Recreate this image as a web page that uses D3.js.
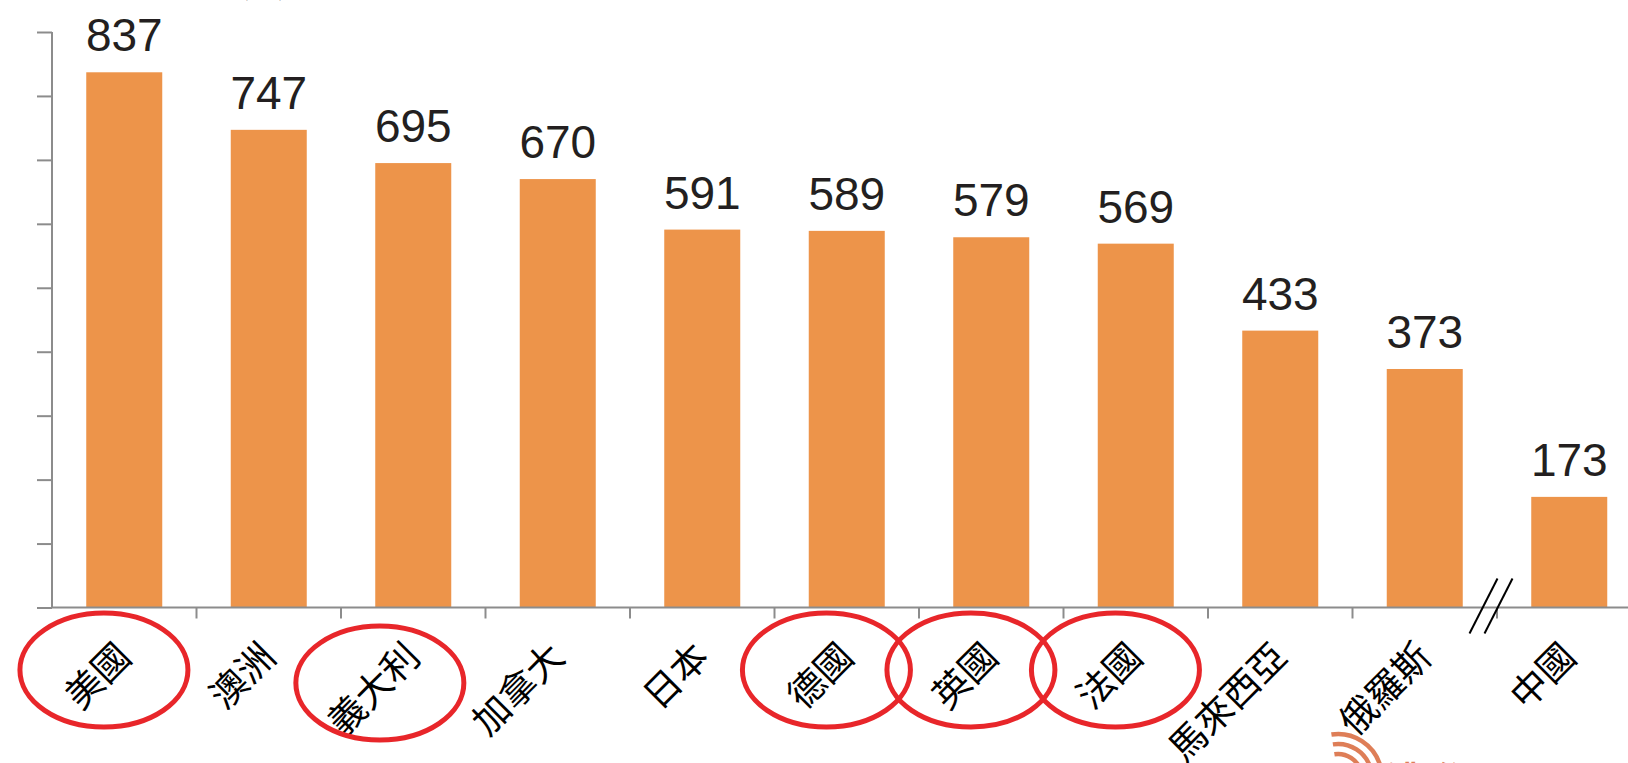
<!DOCTYPE html>
<html lang="zh-Hant">
<head>
<meta charset="utf-8">
<title>Bar chart</title>
<script src="https://d3js.org/d3.v7.min.js"></script>
<style>
  html, body { margin: 0; padding: 0; background: #fff; overflow: hidden; }
  svg { display: block; }
</style>
</head>
<body>
<div id="chart"></div>
<script>
// data
const countries = ["美國", "澳洲", "義大利", "加拿大", "日本", "德國", "英國", "法國", "馬來西亞", "俄羅斯", "中國"];
const values = [837, 747, 695, 670, 591, 589, 579, 569, 433, 373, 173];
const circled = ["美國", "義大利", "德國", "英國", "法國"];
const breakBefore = "中國";
const yTicks = [0, 100, 200, 300, 400, 500, 600, 700, 800, 900];

const width = 1628, height = 763;
const margin = {top: 32, left: 52, baseline: 607.5};

const svg = d3.select("#chart").append("svg")
    .attr("width", width)
    .attr("height", height);

const x = d3.scaleBand()
    .domain(countries)
    .range([margin.left, 1641.5])
    .paddingInner(0.474)
    .paddingOuter(0.237);

const y = d3.scaleLinear()
    .domain([0, 900])
    .range([margin.baseline, margin.top]);

// unit label, cut off by the top edge as in the source
svg.append("text")
    .attr("x", 240)
    .attr("y", -5)
    .attr("font-family", "'Noto Sans CJK TC', sans-serif")
    .attr("font-size", 28)
    .attr("fill", "#231f20")
    .text("(分)");

// bars
svg.append("g")
    .selectAll("rect")
    .data(values)
    .join("rect")
    .attr("x", (d, i) => x(countries[i]))
    .attr("y", d => y(d))
    .attr("width", x.bandwidth())
    .attr("height", d => y(0) - y(d))
    .attr("fill", "#ed944a");

// value labels
svg.append("g")
    .selectAll("text")
    .data(values)
    .join("text")
    .attr("x", (d, i) => x(countries[i]) + x.bandwidth() / 2)
    .attr("y", d => y(d) - 21)
    .attr("text-anchor", "middle")
    .attr("font-family", "'Liberation Sans', Arial, sans-serif")
    .attr("font-size", 46)
    .attr("fill", "#231f20")
    .text(d => d);

// y axis: ticks only, no labels
const yAxis = svg.append("g")
    .attr("transform", `translate(${margin.left},0)`)
    .call(d3.axisLeft(y).tickValues(yTicks).tickSize(15).tickSizeOuter(0).tickFormat(""));
yAxis.selectAll("line, path").attr("stroke", "#8c8c8c").attr("stroke-width", 2);
yAxis.select(".domain").attr("d", `M0,${y(900)}V${y(0)}`);

// x axis: line to the right edge, ticks at band boundaries
const step = x.step();
const gap = (step - x.bandwidth()) / 2;
const bounds = countries.map(c => x(c) - gap);
const xAxis = svg.append("g");
xAxis.append("line")
    .attr("x1", margin.left).attr("x2", width)
    .attr("y1", y(0)).attr("y2", y(0))
    .attr("stroke", "#8c8c8c").attr("stroke-width", 2);
xAxis.selectAll(".tk")
    .data(bounds.slice(1))
    .join("line")
    .attr("class", "tk")
    .attr("x1", d => d).attr("x2", d => d)
    .attr("y1", y(0)).attr("y2", y(0) + 11)
    .attr("stroke", "#8c8c8c").attr("stroke-width", 2);

// rotated category labels
const fs = 37;
const anchorDx = 9, anchorY = 659;
svg.append("g")
    .selectAll("text")
    .data(countries)
    .join("text")
    .attr("transform", d => `translate(${x(d) + x.bandwidth() / 2 + anchorDx},${anchorY}) rotate(-45)`)
    .attr("text-anchor", "end")
    .attr("font-family", "'Noto Sans CJK TC', 'Noto Sans CJK SC', sans-serif")
    .attr("font-size", fs)
    .attr("fill", "#000")
    .text(d => d);

// red circles around highlighted labels, centred a little up-right of the label
const k = Math.SQRT1_2;
const labelCx = d => x(d) + x.bandwidth() / 2 + anchorDx - (d.length * fs / 2) * k - 0.35 * fs * k;
const labelCy = d => anchorY + (d.length * fs / 2) * k - 0.35 * fs * k;
svg.append("g")
    .selectAll("ellipse")
    .data(circled)
    .join("ellipse")
    .attr("cx", d => labelCx(d) + 6)
    .attr("cy", d => labelCy(d) - 6)
    .attr("rx", 84)
    .attr("ry", 57)
    .attr("fill", "none")
    .attr("stroke", "#e8262a")
    .attr("stroke-width", 5);

// axis break marks before the last bar
const bx = x(breakBefore) - gap - 6;
svg.append("g")
    .selectAll("line")
    .data([-7.5, 7.5])
    .join("line")
    .attr("x1", d => bx + d - 14).attr("y1", y(0) + 26)
    .attr("x2", d => bx + d + 14).attr("y2", y(0) - 29)
    .attr("stroke", "#000")
    .attr("stroke-width", 2);

// partially visible watermark logo at the bottom
const logo = svg.append("g")
    .attr("transform", "translate(1338,778)")
    .attr("fill", "none")
    .attr("stroke", "#d9683a")
    .attr("stroke-width", 4.5)
    .attr("opacity", 0.85);
[24, 34, 44].forEach(r => {
    logo.append("path")
        .attr("d", d3.arc()({innerRadius: r, outerRadius: r, startAngle: -0.15, endAngle: 1.3}));
});
logo.append("circle").attr("cx", -22).attr("cy", 10).attr("r", 20);
svg.append("text")
    .attr("x", 1386).attr("y", 794)
    .attr("font-family", "'Noto Sans CJK TC', sans-serif")
    .attr("font-weight", "bold")
    .attr("font-size", 38)
    .attr("fill", "#d9683a")
    .attr("opacity", 0.85)
    .text("濃聯");
</script>
</body>
</html>
